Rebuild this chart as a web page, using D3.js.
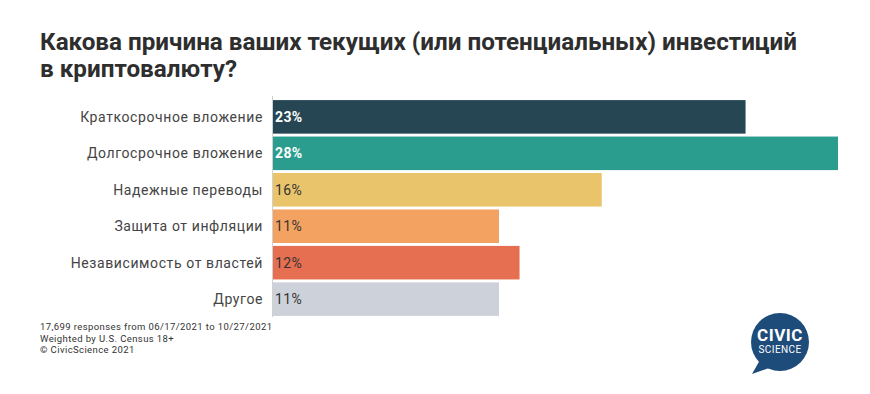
<!DOCTYPE html>
<html>
<head>
<meta charset="utf-8">
<script src="https://cdn.jsdelivr.net/npm/d3@7"></script>
<style>
  body { margin: 0; background: #fff; }
  text { font-family: Roboto, "Noto Sans", sans-serif; }
</style>
</head>
<body>
<script>
// chart data
var categories = [
    "Краткосрочное вложение",
    "Долгосрочное вложение",
    "Надежные переводы",
    "Защита от инфляции",
    "Независимость от властей",
    "Другое"
];
var values = [23.0, 27.5, 16.0, 11.0, 12.0, 11.0];
var colors = ["#264653", "#2a9d8f", "#e9c46a", "#f4a261", "#e76f51", "#cdd1d9"];
var labelColors = ["#fff", "#fff", "#333", "#333", "#333", "#333"];
var titleLines = [
    "Какова причина ваших текущих (или потенциальных) инвестиций",
    "в криптовалюту?"
];
var notes = [
    "17,699 responses from 06/17/2021 to 10/27/2021",
    "Weighted by U.S. Census 18+",
    "© CivicScience 2021"
];

var width = 870, height = 394;

var svg = d3.select("body").append("svg")
    .attr("width", width)
    .attr("height", height);

// title
svg.append("text")
    .attr("x", 40).attr("y", 50)
    .attr("font-size", 24).attr("font-weight", 700)
    .attr("fill", "#2e2e2e")
    .attr("textLength", 757).attr("lengthAdjust", "spacingAndGlyphs")
    .text(titleLines[0]);
svg.append("text")
    .attr("x", 40).attr("y", 77)
    .attr("font-size", 24).attr("font-weight", 700)
    .attr("fill", "#2e2e2e")
    .attr("textLength", 197).attr("lengthAdjust", "spacingAndGlyphs")
    .text(titleLines[1]);

var x = d3.scaleLinear()
    .domain([0, 27.5])
    .range([273, 838]);

var y = d3.scaleBand()
    .domain(categories)
    .range([99, 317])
    .paddingInner(0.08)
    .paddingOuter(0.03);

var data = categories.map(function (c, i) {
    return { name: c, value: values[i], color: colors[i], lc: labelColors[i] };
});

svg.selectAll(".bar")
    .data(data)
    .enter().append("rect")
    .attr("class", "bar")
    .attr("x", x(0))
    .attr("y", function (d) { return y(d.name); })
    .attr("width", function (d) { return x(d.value) - x(0); })
    .attr("height", y.bandwidth())
    .attr("fill", function (d) { return d.color; });

// axis line
svg.append("line")
    .attr("x1", 272.5).attr("x2", 272.5)
    .attr("y1", 96).attr("y2", 317)
    .attr("stroke", "#d0d0d0").attr("stroke-width", 1);

// category labels
svg.selectAll(".cat")
    .data(data)
    .enter().append("text")
    .attr("class", "cat")
    .attr("x", 263)
    .attr("y", function (d) { return y(d.name) + y.bandwidth() / 2; })
    .attr("dy", "0.35em")
    .attr("text-anchor", "end")
    .attr("font-size", 14)
    .attr("letter-spacing", 0.6)
    .attr("fill", "#444")
    .text(function (d) { return d.name; });

// value labels
svg.selectAll(".val")
    .data(data)
    .enter().append("text")
    .attr("class", "val")
    .attr("x", x(0) + 2)
    .attr("y", function (d) { return y(d.name) + y.bandwidth() / 2; })
    .attr("dy", "0.35em")
    .attr("font-size", 14)
    .attr("letter-spacing", 0.4)
    .attr("font-weight", function (d, i) { return i < 2 ? 700 : 400; })
    .attr("fill", function (d) { return d.lc; })
    .text(function (d) { return Math.round(d.value) + "%"; });

// footnotes
svg.selectAll(".note")
    .data(notes)
    .enter().append("text")
    .attr("class", "note")
    .attr("x", 40)
    .attr("y", function (d, i) { return 330 + i * 11.5; })
    .attr("font-size", 9.5)
    .attr("letter-spacing", 0.4)
    .attr("fill", "#333")
    .text(function (d) { return d; });

// logo
var logo = svg.append("g").attr("transform", "translate(780,342)");
logo.append("circle").attr("r", 29).attr("fill", "#1d4b7a");
logo.append("path")
    .attr("d", "M-20,18 L-28,32 L-8,25 Z")
    .attr("fill", "#1d4b7a");
logo.append("text")
    .attr("y", -1).attr("text-anchor", "middle")
    .attr("font-size", 17).attr("font-weight", 700)
    .attr("letter-spacing", 0.5)
    .attr("fill", "#fff")
    .text("CIVIC");
logo.append("text")
    .attr("y", 11).attr("text-anchor", "middle")
    .attr("font-size", 10)
    .attr("letter-spacing", 0.4)
    .attr("fill", "#fff")
    .text("SCIENCE");
</script>
</body>
</html>
